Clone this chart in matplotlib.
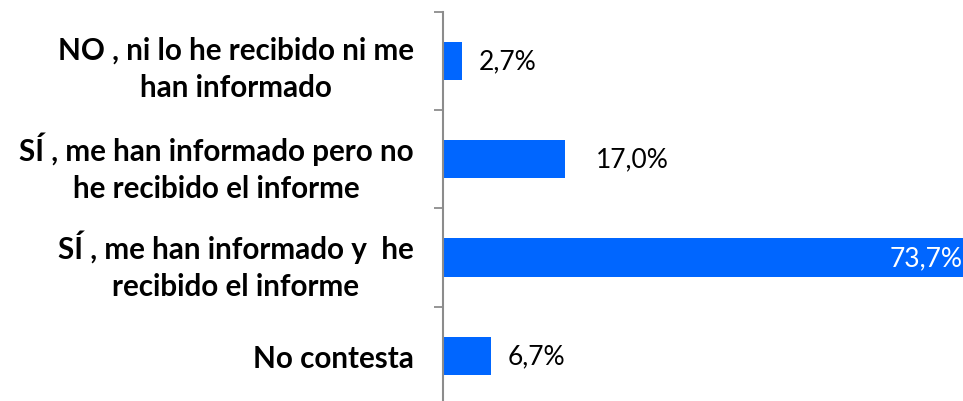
import matplotlib
matplotlib.use("Agg")
import matplotlib.pyplot as plt
from matplotlib.ticker import FixedLocator
import numpy as np

categories = [
    "NO , ni lo he recibido ni me\nhan informado",
    "SÍ , me han informado pero no\nhe recibido el informe",
    "SÍ , me han informado y  he\nrecibido el informe",
    "No contesta",
]
values = [2.7, 17.0, 73.7, 6.7]
value_labels = ["2,7%", "17,0%", "73,7%", "6,7%"]

BLUE = "#0066ff"
GRAY = "#8c8c8c"
FONT = "Lato"

fig = plt.figure(figsize=(9.63, 4.02), dpi=100)
W, H = 963, 402
left_px, top_px = 443, 13
cat_px = 98.2
px_per_unit = 7.18
xmax = 80
ax = fig.add_axes([left_px / W, 1 - (top_px + 4 * cat_px) / H,
                   xmax * px_per_unit / W, 4 * cat_px / H])

y = np.arange(len(categories))
ax.barh(y, values, height=0.39, color=BLUE, edgecolor="none", zorder=2)
ax.set_ylim(len(categories) - 0.5, -0.5)
ax.set_xlim(0, xmax)

ax.set_yticks(y)
ax.set_yticklabels(categories, fontsize=21.3, fontweight="bold", family=FONT,
                   ha="right", multialignment="center", color="black",
                   linespacing=1.4)
ax.tick_params(axis="y", which="major", length=0, pad=21)
ax.yaxis.set_minor_locator(FixedLocator(np.arange(-0.5, len(categories) + 0.5, 1)))
ax.tick_params(axis="y", which="minor", length=6.5, width=1.3, color=GRAY, direction="out")
ax.set_xticks([])
for s in ["top", "right", "bottom"]:
    ax.spines[s].set_visible(False)
ax.spines["left"].set_color(GRAY)
ax.spines["left"].set_linewidth(1.5)

for i, (v, lab) in enumerate(zip(values, value_labels)):
    if v > 50:
        ax.annotate(lab, (v, i), xytext=(-7, 0), textcoords="offset points",
                    ha="right", va="center", fontsize=19, family=FONT, color="white")
    else:
        off = 22 if v > 10 else 12
        ax.annotate(lab, (v, i), xytext=(off, 0), textcoords="offset points",
                    ha="left", va="center", fontsize=19, family=FONT, color="black")

fig.savefig("out.png", dpi=100)
